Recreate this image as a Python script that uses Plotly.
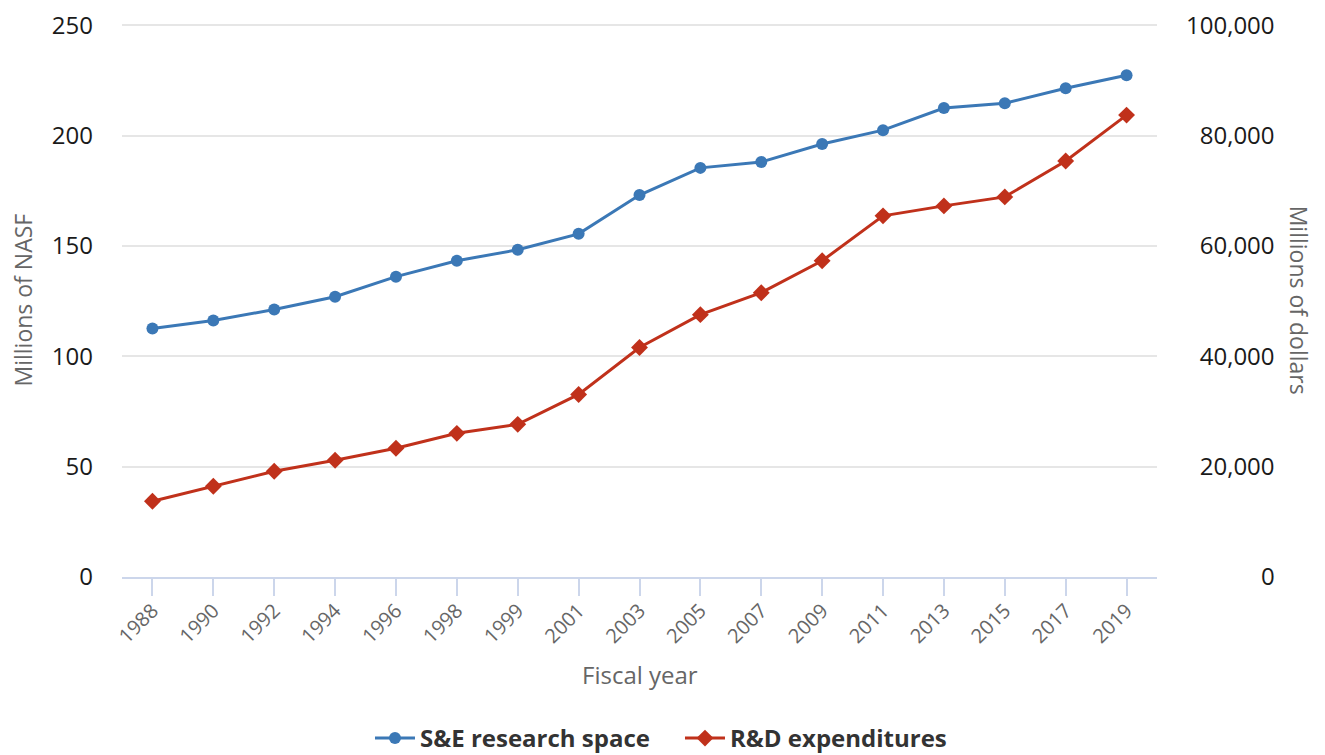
import plotly.graph_objects as go

years = ["1988", "1990", "1992", "1994", "1996", "1998", "1999", "2001", "2003",
         "2005", "2007", "2009", "2011", "2013", "2015", "2017", "2019"]
research_space = [112.6, 116.2, 121.2, 127.0, 136.1, 143.3, 148.3, 155.5, 173.1,
                  185.4, 188.1, 196.2, 202.5, 212.5, 214.7, 221.5, 227.4]
rd_expenditures = [13743, 16456, 19168, 21157, 23327, 26040, 27667, 33092, 41591,
                   47559, 51537, 57324, 65461, 67269, 68897, 75407, 83725]
left_ticks = [0, 50, 100, 150, 200, 250]
right_ticks = [0, 20000, 40000, 60000, 80000, 100000]

FONT = "Open Sans"
BLUE = "#3b78b6"
RED = "#c0311b"

fig = go.Figure()

fig.add_trace(go.Scatter(
    x=years, y=research_space, name="S&E research space",
    mode="lines+markers",
    line=dict(color=BLUE, width=3),
    marker=dict(color=BLUE, size=12, symbol="circle"),
))

fig.add_trace(go.Scatter(
    x=years, y=rd_expenditures, name="R&D expenditures",
    mode="lines+markers", yaxis="y2",
    line=dict(color=RED, width=3),
    marker=dict(color=RED, size=13, symbol="diamond"),
))

# right axis labels are right aligned in the original, pad with figure spaces
def pad(v):
    s = f"{v:,}"
    out = ""
    for ch in "100,000"[:7 - len(s)]:
        out += "\u2008" if ch == "," else "\u2007"
    return out + s

# plotly drops grid lines within 1px of the axis end, so leave a little headroom
top_left = 250.6
top_right = top_left / 250 * 100000

# page body has an 8px margin, so the figure is 16px smaller than the window
fig.update_layout(
    width=1317, height=747,
    margin=dict(l=114, r=168, t=16, b=178, autoexpand=False),
    plot_bgcolor="white", paper_bgcolor="white",
    font=dict(family=FONT, color="#333333"),
    showlegend=True,
    legend=dict(orientation="h", x=0.2396, xanchor="left", y=-0.292, yanchor="middle",
                font=dict(size=24, color="#333333", family=FONT, weight="bold"),
                itemwidth=40, entrywidth=255, entrywidthmode="pixels",
                tracegroupgap=0),
    xaxis=dict(
        type="category", range=[-0.5, len(years) - 0.5],
        automargin=False,
        showgrid=False, zeroline=False,
        showline=True, linecolor="#ccd6eb", linewidth=2,
        ticks="outside", ticklen=17, tickcolor="#ccd6eb", tickwidth=2,
        ticklabelstandoff=-5,
        tickangle=-45, tickfont=dict(size=20, color="#666666", family=FONT),
    ),
    yaxis=dict(
        range=[0, top_left], tickvals=left_ticks, automargin=False,
        showgrid=True, gridcolor="#e6e6e6", gridwidth=1.5,
        zeroline=False, showline=False,
        tickfont=dict(size=24, color="#1a1a1a", family=FONT),
        ticklabelstandoff=28, ticklabeloverflow="allow",
    ),
    yaxis2=dict(
        range=[0, top_right], overlaying="y", side="right", automargin=False,
        tickvals=right_ticks, ticktext=[pad(v) for v in right_ticks],
        showgrid=False, zeroline=False, showline=False,
        tickfont=dict(size=24, color="#1a1a1a", family=FONT),
        ticklabelstandoff=28, ticklabeloverflow="allow",
    ),
    annotations=[
        dict(text="Fiscal year", xref="paper", yref="paper", x=0.5, y=-0.177,
             xanchor="center", yanchor="middle", showarrow=False,
             font=dict(size=24, color="#666666", family=FONT)),
        dict(text="Millions of NASF", xref="paper", yref="paper", x=-0.0966, y=0.5,
             xanchor="center", yanchor="middle", textangle=-90, showarrow=False,
             font=dict(size=23, color="#666666", family=FONT)),
        dict(text="Millions of dollars", xref="paper", yref="paper", x=1.138, y=0.5,
             xanchor="center", yanchor="middle", textangle=90, showarrow=False,
             font=dict(size=23, color="#666666", family=FONT)),
    ],
)

fig.write_html("out.html")
